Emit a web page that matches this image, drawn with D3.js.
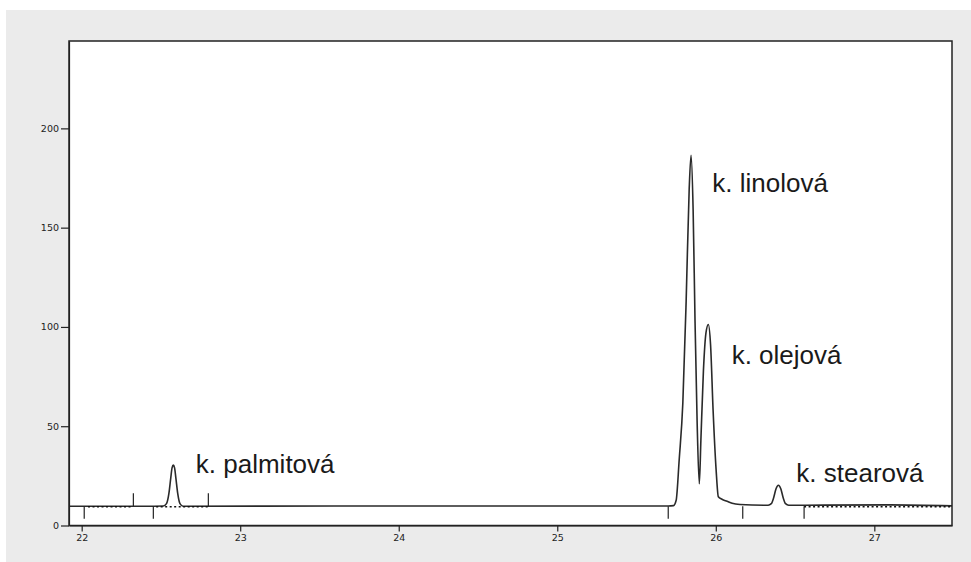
<!DOCTYPE html>
<html>
	<head>
		<meta charset="utf-8">
		<title>Chromatogram</title>
		<script src="https://d3js.org/d3.v7.min.js"></script>
		<style>
			body { margin: 0; background: #ffffff; }
			.axis text { font-family: "DejaVu Sans", sans-serif; font-size: 9.5px; fill: #222; }
			.axis path, .axis line { stroke: #222; stroke-width: 1.2; }
			.peakLabel { font-family: "Liberation Sans", Arial, sans-serif; font-size: 26px; fill: #1a1a1a; }
		</style>
	</head>
	<body>
		<div id="chartContainer"></div>

		<script type="text/javascript">
		// Retention time (min) and detector signal
		var traceTime = [
			21.92, 22.40, 22.515, 22.535, 22.55, 22.562, 22.570, 22.578, 22.586, 22.594, 22.606, 22.620, 22.640,
			23.60, 25.70, 25.733, 25.750, 25.769, 25.792, 25.813, 25.832, 25.844, 25.857, 25.869, 25.882,
			25.896, 25.906, 25.922, 25.938, 25.953, 25.967, 25.983, 26.002, 26.016, 26.039, 26.071, 26.103,
			26.153, 26.33, 26.35, 26.365, 26.38, 26.395, 26.41, 26.425, 26.44, 26.46, 27.10, 27.49
		];
		var traceSignal = [
			9.7, 9.7, 9.8, 11, 16, 24, 29, 30.4, 29, 24, 16, 11, 9.7,
			9.8, 9.8, 10, 12.7, 33, 61.6, 113, 169, 186.5, 159, 103, 53,
			21, 43, 78, 97, 101.2, 91, 58, 28, 14.5, 13.2, 12.2, 11.2,
			10.6, 10.2, 11, 14, 18.5, 20.3, 18.5, 14, 11, 10.2, 10.4, 9.9
		];

		// Integration marks: ticks below and above the baseline
		var markDown = [22.016, 22.452, 25.70, 26.17, 26.557];
		var markUp = [22.326, 22.799];
		var markBase = 9.7;

		// Dotted integration baselines [start, end]
		var dottedStart = [22.04, 22.47, 26.557];
		var dottedEnd = [22.32, 22.80, 27.49];

		// Peak names and where they sit
		var peakNames = ["k. palmitová", "k. linolová", "k. olejová", "k. stearová"];
		var peakLabelTime = [22.72, 25.978, 26.10, 26.508];
		var peakLabelSignal = [26.5, 168, 81.5, 22];

		// Axis ticks
		var xTicks = [22, 23, 24, 25, 26, 27];
		var yTicks = [0, 50, 100, 150, 200];

		// Set constants
		const svgWidth = 971;
		const svgHeight = 562;
		const plotLeft = 69, plotRight = 952, plotTop = 41, plotBottom = 525.5;

		var svg = d3.select("#chartContainer").append("svg")
			.attr("width", svgWidth)
			.attr("height", svgHeight);

		// Grey panel behind everything
		svg.append("rect")
			.attr("x", 6).attr("y", 10)
			.attr("width", svgWidth - 6).attr("height", svgHeight - 10)
			.attr("fill", "#ebebeb");

		// White plot area
		svg.append("rect")
			.attr("x", plotLeft).attr("y", plotTop)
			.attr("width", plotRight - plotLeft).attr("height", plotBottom - plotTop)
			.attr("fill", "#ffffff");

		// Scales
		var x = d3.scaleLinear()
			.domain([21.92, 27.49])
			.range([plotLeft, plotRight]);
		var y = d3.scaleLinear()
			.domain([0, 244])
			.range([plotBottom, plotTop]);

		// Trace
		var points = traceTime.map(function (t, i) { return [t, traceSignal[i]]; });
		var line = d3.line()
			.x(function (d) { return x(d[0]); })
			.y(function (d) { return y(d[1]); })
			.curve(d3.curveMonotoneX);
		svg.append("path")
			.datum(points)
			.attr("d", line)
			.attr("fill", "none")
			.attr("stroke", "#2a2a2a")
			.attr("stroke-width", 1.6);

		// Dotted baselines
		svg.selectAll("line.dotted")
			.data(dottedStart)
			.enter()
			.append("line")
			.attr("class", "dotted")
			.attr("x1", function (d) { return x(d); })
			.attr("x2", function (d, i) { return x(dottedEnd[i]); })
			.attr("y1", y(markBase) + 0.5)
			.attr("y2", y(markBase) + 0.5)
			.attr("stroke", "#111")
			.attr("stroke-width", 1.3)
			.attr("stroke-dasharray", "2,2.5");

		// Integration marks
		svg.selectAll("line.markDown")
			.data(markDown)
			.enter()
			.append("line")
			.attr("class", "markDown")
			.attr("x1", function (d) { return x(d); })
			.attr("x2", function (d) { return x(d); })
			.attr("y1", y(markBase))
			.attr("y2", y(markBase - 6.3))
			.attr("stroke", "#222")
			.attr("stroke-width", 1.2);
		svg.selectAll("line.markUp")
			.data(markUp)
			.enter()
			.append("line")
			.attr("class", "markUp")
			.attr("x1", function (d) { return x(d); })
			.attr("x2", function (d) { return x(d); })
			.attr("y1", y(markBase))
			.attr("y2", y(markBase + 6.5))
			.attr("stroke", "#222")
			.attr("stroke-width", 1.2);

		// Peak labels
		svg.selectAll("text.peakLabel")
			.data(peakNames)
			.enter()
			.append("text")
			.attr("class", "peakLabel")
			.attr("x", function (d, i) { return x(peakLabelTime[i]); })
			.attr("y", function (d, i) { return y(peakLabelSignal[i]); })
			.text(function (d) { return d; });

		// Axes
		svg.append("g")
			.attr("class", "axis")
			.attr("transform", "translate(0," + plotBottom + ")")
			.call(d3.axisBottom(x).tickValues(xTicks).tickFormat(d3.format("d"))
				.tickSize(6).tickSizeOuter(0).tickPadding(3));
		svg.append("g")
			.attr("class", "axis")
			.attr("transform", "translate(" + plotLeft + ",0)")
			.call(d3.axisLeft(y).tickValues(yTicks).tickSize(8).tickSizeOuter(0).tickPadding(2));

		// Frame
		svg.append("rect")
			.attr("x", plotLeft).attr("y", plotTop)
			.attr("width", plotRight - plotLeft).attr("height", plotBottom - plotTop)
			.attr("fill", "none")
			.attr("stroke", "#222")
			.attr("stroke-width", 1.5);
		</script>
	</body>
</html>
